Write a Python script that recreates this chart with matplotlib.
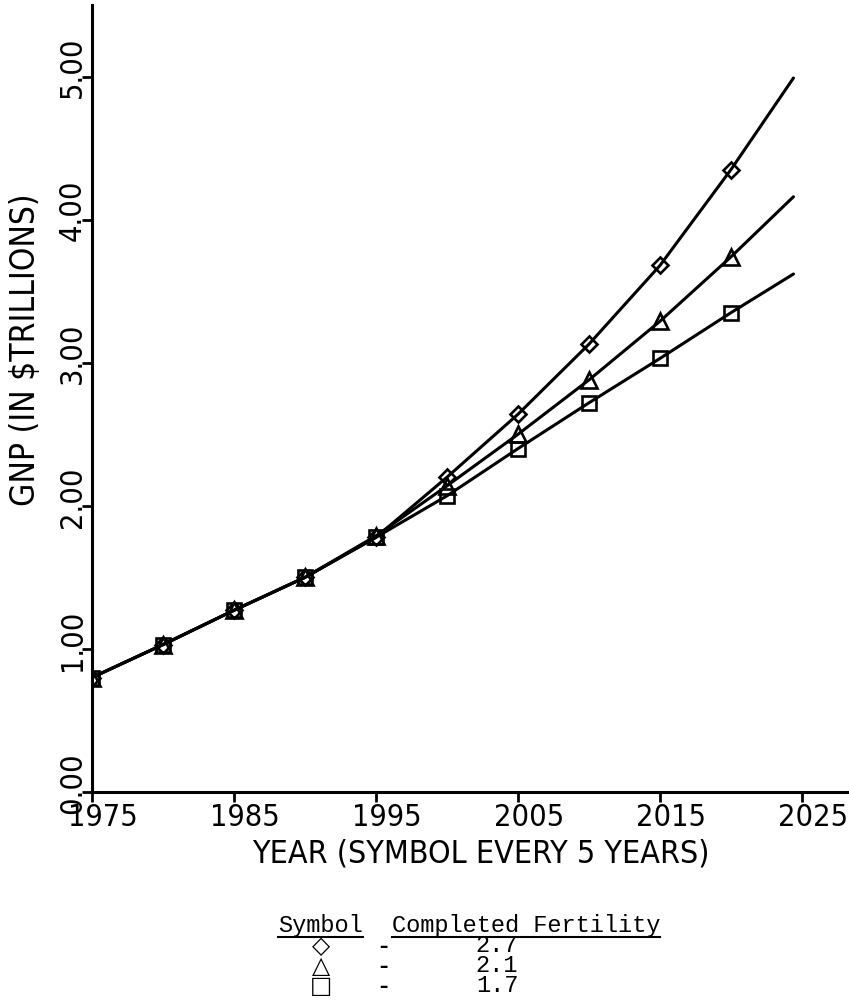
import matplotlib
matplotlib.use('Agg')
from matplotlib import pyplot as plt
from matplotlib import font_manager
from matplotlib.transforms import ScaledTranslation
from matplotlib.lines import Line2D

# GNP projections (trillions of dollars), one symbol every five years
years = [1975, 1980, 1985, 1990, 1995, 2000, 2005, 2010, 2015, 2020]
end_year = 2024.4

gnp_27 = [0.80, 1.03, 1.27, 1.50, 1.78, 2.20, 2.64, 3.13, 3.68, 4.35]
gnp_21 = [0.80, 1.03, 1.27, 1.50, 1.79, 2.14, 2.50, 2.88, 3.29, 3.74]
gnp_17 = [0.80, 1.03, 1.27, 1.50, 1.78, 2.07, 2.40, 2.72, 3.03, 3.35]
gnp_end = [4.99, 4.16, 3.62]

fertility = ['2.7', '2.1', '1.7']
key_symbols = ['\u25c7', '\u25b3', '\u25a1']

x_ticks = [1975, 1985, 1995, 2005, 2015, 2025]
y_ticks = [0, 1, 2, 3, 4, 5]
y_tick_labels = ['0.00', '1.00', '2.00', '3.00', '4.00', '5.00']


def narrow_font():
    # pick the narrowest sans face that is installed
    for fam, stretch, size in [('Liberation Sans Narrow', 'normal', 24),
                               ('DejaVu Sans', 'condensed', 22),
                               ('Roboto Condensed', 'normal', 23)]:
        fp = font_manager.FontProperties(family=fam, stretch=stretch)
        try:
            path = font_manager.findfont(fp, fallback_to_default=False)
        except ValueError:
            continue
        if 'Narrow' in path or 'Condensed' in path:
            return font_manager.FontProperties(fname=path), size
    return font_manager.FontProperties(family='DejaVu Sans'), 18.5


font_prop, font_size = narrow_font()
key_font = ['Liberation Mono', 'DejaVu Sans Mono']

W, H = 849, 1001
fig = plt.figure(figsize=(W / 100, H / 100), dpi=100)
fig.patch.set_facecolor('white')
ax = fig.add_axes([92 / W, 209 / H, 757 / W, 787 / H])

series = [(gnp_27, gnp_end[0], 'D', 8.0),
          (gnp_21, gnp_end[1], '^', 12.0),
          (gnp_17, gnp_end[2], 's', 10.5)]
for vals, last, mk, ms in series:
    ax.plot(years + [end_year], vals + [last], color='black', lw=2.2,
            solid_capstyle='round', zorder=2)
    ax.plot(years, vals, linestyle='none', marker=mk, ms=ms,
            mfc='none', mec='black', mew=1.9, zorder=3)

ax.set_xlim(1975, 1975 + 757 / 14.2)
ax.set_ylim(0, 5.5)
for side in ['top', 'right']:
    ax.spines[side].set_visible(False)
for side in ['left', 'bottom']:
    ax.spines[side].set_linewidth(2.2)

ax.set_xticks(x_ticks)
ax.set_xticklabels([str(y) for y in x_ticks], fontproperties=font_prop,
                   fontsize=font_size)
ax.set_yticks(y_ticks)
ax.set_yticklabels(y_tick_labels, fontproperties=font_prop,
                   fontsize=font_size, rotation=90, va='center')
ax.tick_params(axis='x', direction='out', length=7.5, width=2, pad=0.5)
ax.tick_params(axis='y', direction='out', length=7.5, width=2, pad=-4)

# plotter labels sit a little off their ticks
x_shift = ScaledTranslation(0.11, 0, fig.dpi_scale_trans)
for lbl in ax.get_xticklabels():
    lbl.set_transform(lbl.get_transform() + x_shift)
y_shift = ScaledTranslation(0, 0.09, fig.dpi_scale_trans)
for lbl in ax.get_yticklabels():
    lbl.set_transform(lbl.get_transform() + y_shift)

ax.set_xlabel('YEAR (SYMBOL EVERY 5 YEARS)', fontproperties=font_prop,
              fontsize=font_size + 1, va='center')
ax.xaxis.set_label_coords((481 - 92) / 757, (792 - 854) / 787)
ax.set_ylabel('GNP (IN \\$TRILLIONS)', fontproperties=font_prop,
              fontsize=font_size + 2, va='center')
ax.yaxis.set_label_coords((26 - 92) / 757, (792 - 350) / 787)


# key below the chart
def fx(px):
    return px / W


def fy(px):
    return 1 - px / H


head1 = fig.text(fx(278), fy(932), 'Symbol', family=key_font, fontsize=17,
                 ha='left', va='baseline')
head2 = fig.text(fx(392), fy(932), 'Completed Fertility', family=key_font,
                 fontsize=17, ha='left', va='baseline')
row_y = [946, 966, 986]
for sym, val, ry in zip(key_symbols, fertility, row_y):
    fig.text(fx(321), fy(ry), sym, family=['DejaVu Sans'], fontsize=17,
             ha='center', va='center')
    fig.text(fx(383), fy(ry), '-', family=key_font, fontsize=17,
             fontweight='bold', ha='center', va='center')
    fig.text(fx(497), fy(ry), val, family=key_font, fontsize=17,
             ha='center', va='center')

renderer = fig.canvas.get_renderer()
for t in [head1, head2]:
    bb = t.get_window_extent(renderer)
    fig.add_artist(Line2D([bb.x0 / W, bb.x1 / W], [fy(937), fy(937)],
                          transform=fig.transFigure, color='black', lw=1.5))

fig.savefig('out.png', dpi=100, facecolor='white')
